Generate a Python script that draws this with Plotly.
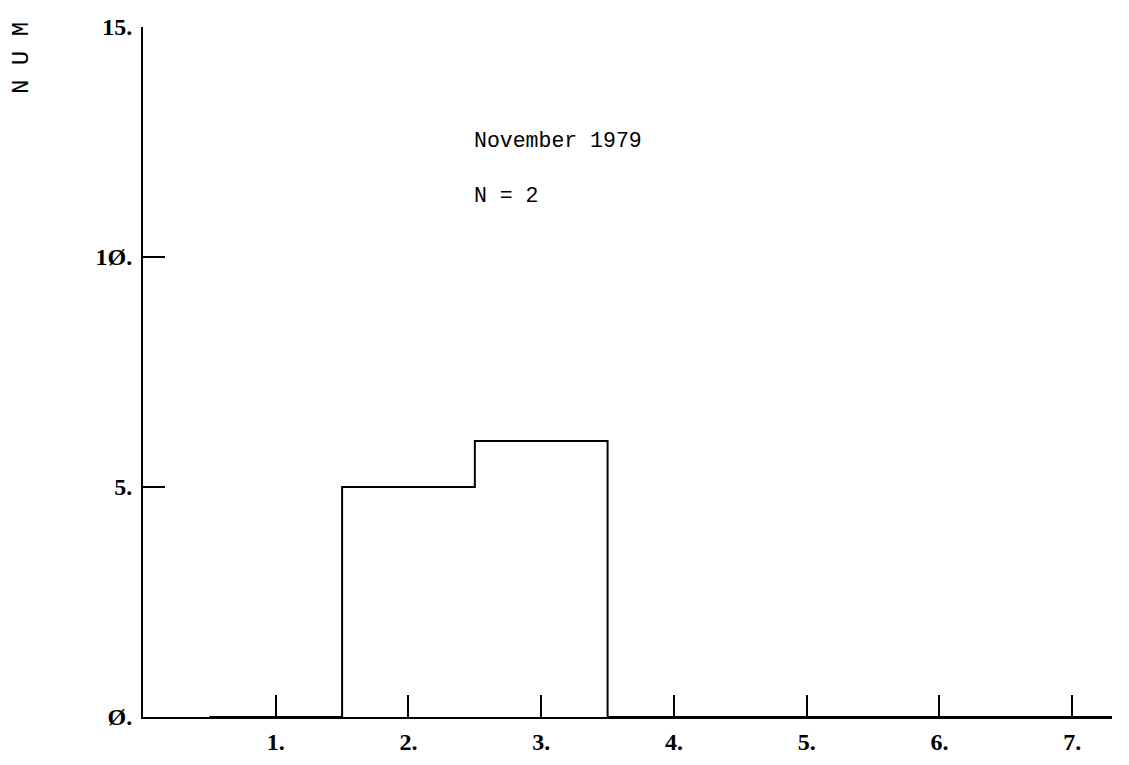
import plotly.graph_objects as go

# Histogram counts, November 1979
bins = [1, 2, 3, 4, 5, 6, 7]
counts = [0, 5, 6, 0, 0, 0, 0]
x_tick_labels = ["1.", "2.", "3.", "4.", "5.", "6.", "7."]
y_ticks = [0, 5, 10, 15]
y_tick_labels = ["Ø.", "5.", "1Ø.", "15."]
title_lines = ["November 1979", "N = 2"]

# step outline: left edge of each bin, last right edge closes the shape
step_x = [b - 0.5 for b in bins] + [bins[-1] + 0.5]
step_y = counts + [counts[-1]]
step_x = [step_x[0]] + step_x
step_y = [0] + step_y

fig = go.Figure()
fig.add_trace(go.Scatter(
    x=step_x, y=step_y,
    mode="lines",
    line=dict(color="black", width=2, shape="hv"),
    hoverinfo="skip",
    showlegend=False
))

tick_font = dict(family="Liberation Serif", size=24, color="black", weight="bold")
text_font = dict(family="Liberation Mono", size=21.5, color="black")

# page body has an 8px margin, so the figure is shrunk to fit the window
fig.update_layout(
    width=1121, height=757,
    paper_bgcolor="white", plot_bgcolor="white",
    margin=dict(l=135, r=17, t=19, b=48),
    xaxis=dict(
        range=[0, 7.3],
        tickvals=bins, ticktext=x_tick_labels,
        ticks="inside", ticklen=22, tickwidth=2, tickcolor="black",
        ticklabelstandoff=2,
        showline=True, linecolor="black", linewidth=2,
        showgrid=False, zeroline=False, automargin=False,
        tickfont=tick_font
    ),
    yaxis=dict(
        range=[0, 15],
        tickvals=y_ticks, ticktext=y_tick_labels,
        ticks="inside", ticklen=22, tickwidth=2, tickcolor="black",
        ticklabelstandoff=4,
        showline=True, linecolor="black", linewidth=2,
        showgrid=False, zeroline=False, automargin=False,
        tickfont=tick_font
    ),
)

fig.add_annotation(x=2.48, y=12.52, xref="x", yref="y", text=title_lines[0],
                   showarrow=False, xanchor="left", font=text_font)
fig.add_annotation(x=2.48, y=11.33, xref="x", yref="y", text=title_lines[1],
                   showarrow=False, xanchor="left", font=text_font)
fig.add_annotation(x=-0.126, y=0.955, xref="paper", yref="paper", text="N U M",
                   showarrow=False, textangle=-90, xanchor="center", yanchor="middle",
                   font=dict(family="Liberation Mono", size=24, color="black"))

fig.write_html("out.html")
